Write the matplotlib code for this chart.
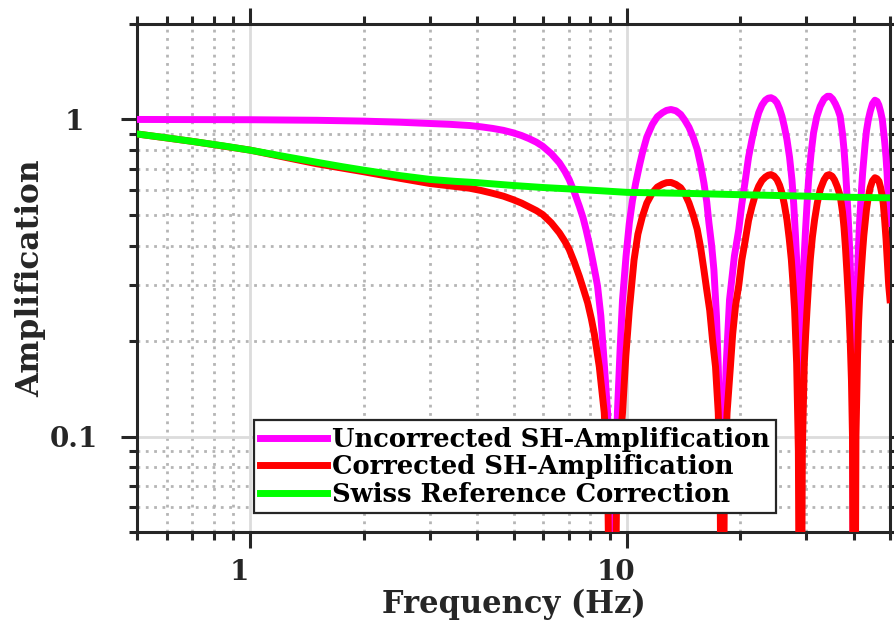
import matplotlib
matplotlib.use("Agg")
import matplotlib.pyplot as plt
from matplotlib.ticker import LogLocator, NullFormatter, FixedLocator, FixedFormatter
import matplotlib.transforms as mtransforms

# ---------------- data ----------------
freq_uncorr = [0.5, 0.7, 1.0, 1.5, 2.0, 2.5, 3.0, 3.4, 3.82, 4.1, 4.4, 4.7, 4.98, 5.25, 5.5,
               5.75, 5.98, 6.3, 6.62, 6.85, 7.03, 7.25, 7.48, 7.65, 7.79, 7.95, 8.11, 8.25,
               8.36, 8.53, 8.71, 8.89, 9.05, 9.16, 9.27, 9.44, 9.6, 9.74,
               9.95, 10.15, 10.35, 10.56, 10.8, 11.0, 11.3, 11.69, 12.05, 12.43, 12.75, 13.1,
               13.5, 13.9, 14.25, 14.62, 15.0, 15.38, 15.7, 16.02, 16.3, 16.52, 16.8, 17.03,
               17.3, 17.49, 17.74, 17.92, 18.1, 18.35,
               18.74, 19.3, 19.83, 20.2, 20.65, 21.05, 21.5, 21.95, 22.4, 22.85, 23.33, 23.75,
               24.15, 24.6, 25.05, 25.45, 25.82, 26.2, 26.62, 27.05, 27.45, 27.75, 28.02, 28.25,
               28.45, 28.7, 28.9, 29.1,
               29.35, 29.55, 29.8, 30.1, 30.39, 30.85, 31.33, 31.95, 32.63, 33.4, 34.1, 34.6,
               35.2, 35.8, 36.35, 36.86, 37.4, 37.75, 38.1, 38.45, 38.9, 39.2, 39.5, 39.75,
               40.15, 40.55,
               40.8, 41.0, 41.25, 41.5, 41.75, 42.0, 42.3, 42.6, 42.95, 43.3, 43.8, 44.3, 44.9,
               45.6, 46.2, 46.7, 47.2, 47.7, 48.0, 48.4, 48.8, 49.1, 49.35, 49.6, 50.0]
amp_uncorr = [1.0, 0.999, 0.998, 0.994, 0.988, 0.98, 0.971, 0.965, 0.957, 0.948, 0.937, 0.924,
              0.908, 0.89, 0.87, 0.848, 0.823, 0.78, 0.730, 0.685, 0.646, 0.59, 0.532, 0.49,
              0.45, 0.405, 0.361, 0.325, 0.298, 0.24, 0.17, 0.119, 0.05, 0.005, 0.05, 0.119,
              0.19, 0.27,
              0.37, 0.47, 0.555, 0.631, 0.715, 0.785, 0.88, 0.965, 1.02, 1.05, 1.068, 1.075,
              1.065, 1.037, 0.995, 0.945, 0.88, 0.804, 0.72, 0.631, 0.55, 0.472, 0.40, 0.336,
              0.24, 0.166, 0.09, 0.005, 0.09, 0.166,
              0.27, 0.37, 0.45, 0.54, 0.646, 0.76, 0.865, 0.965, 1.05, 1.11, 1.15, 1.167,
              1.171, 1.158, 1.129, 1.08, 1.024, 0.95, 0.865, 0.76, 0.646, 0.54, 0.439, 0.36,
              0.277, 0.14, 0.005, 0.14,
              0.277, 0.36, 0.439, 0.54, 0.646, 0.78, 0.908, 1.02, 1.10, 1.16, 1.183, 1.183,
              1.16, 1.12, 1.075, 1.024, 0.90, 0.80, 0.69, 0.573, 0.44, 0.35, 0.26, 0.18,
              0.005, 0.18,
              0.26, 0.32, 0.40, 0.47, 0.535, 0.60, 0.68, 0.75, 0.84, 0.92, 1.0, 1.06, 1.12,
              1.15, 1.14, 1.11, 1.06, 1.0, 0.93, 0.85, 0.76, 0.68, 0.6, 0.53, 0.47]

freq_corr = [0.5, 0.7, 1.0, 1.5, 2.0, 2.5, 3.0, 3.4, 3.82, 4.1, 4.4, 4.7, 4.98, 5.25, 5.5,
             5.75, 5.98, 6.3, 6.62, 6.85, 7.03, 7.25, 7.48, 7.68, 7.87, 8.05, 8.2, 8.45, 8.71,
             8.9, 9.15, 9.4, 9.74, 9.94,
             10.15, 10.45, 10.7, 11.0, 11.3, 11.69, 12.05, 12.43, 12.75, 13.1, 13.5, 13.9,
             14.25, 14.62, 15.0, 15.38, 15.7, 16.02, 16.3, 16.6, 16.9, 17.2, 17.49, 17.7,
             17.92, 18.15, 18.46, 18.84,
             19.1, 19.45, 19.83, 20.2, 20.65, 21.05, 21.5, 21.95, 22.4, 22.85, 23.33, 23.75,
             24.15, 24.6, 25.05, 25.45, 25.82, 26.2, 26.62, 27.0, 27.35, 27.65, 27.9, 28.25,
             28.55, 28.9, 29.25, 29.6,
             29.85, 30.1, 30.4, 30.7, 31.1, 31.53, 32.05, 32.63, 33.4, 34.0, 34.5, 35.1,
             35.6, 36.2, 36.86, 37.4, 37.75, 38.1, 38.45, 38.9, 39.2, 39.5, 39.75, 40.15,
             40.6, 41.0,
             41.25, 41.5, 41.75, 42.0, 42.3, 42.6, 42.95, 43.3, 43.8, 44.3, 44.9, 45.6, 46.2,
             46.75, 47.2, 47.7, 48.0, 48.4, 48.8, 49.1, 49.35, 49.6, 50.0]
amp_corr = [0.90, 0.853, 0.80, 0.725, 0.684, 0.652, 0.628, 0.617, 0.607, 0.597, 0.585, 0.573,
            0.559, 0.545, 0.53, 0.516, 0.501, 0.472, 0.439, 0.412, 0.389, 0.355, 0.320, 0.29,
            0.264, 0.235, 0.21, 0.166, 0.119, 0.07, 0.004, 0.07, 0.119, 0.18,
            0.25, 0.36, 0.435, 0.495, 0.545, 0.587, 0.612, 0.625, 0.632, 0.633, 0.624, 0.609,
            0.583, 0.546, 0.50, 0.45, 0.395, 0.336, 0.29, 0.25, 0.20, 0.166, 0.119, 0.07,
            0.004, 0.07, 0.119, 0.166,
            0.21, 0.26, 0.30, 0.36, 0.418, 0.48, 0.532, 0.58, 0.616, 0.642, 0.658, 0.667,
            0.67, 0.663, 0.646, 0.62, 0.587, 0.54, 0.483, 0.42, 0.361, 0.30, 0.251, 0.17,
            0.09, 0.004, 0.09, 0.17,
            0.21, 0.251, 0.305, 0.361, 0.425, 0.483, 0.545, 0.601, 0.645, 0.666, 0.67, 0.662,
            0.645, 0.615, 0.575, 0.51, 0.455, 0.39, 0.325, 0.25, 0.20, 0.15, 0.10, 0.003,
            0.10, 0.18,
            0.23, 0.27, 0.305, 0.34, 0.385, 0.43, 0.475, 0.52, 0.57, 0.61, 0.64, 0.655, 0.65,
            0.638, 0.61, 0.573, 0.54, 0.48, 0.42, 0.37, 0.33, 0.30, 0.27]

freq_swiss = [0.5, 0.6, 0.7, 0.85, 1.0, 1.25, 1.5, 1.75, 2.0, 2.5, 3.0, 3.5, 4.0, 5.0, 6.0,
              7.0, 8.5, 10.0, 15.0, 20.0, 30.0, 40.0, 50.0]
amp_swiss = [0.90, 0.875, 0.853, 0.825, 0.80, 0.762, 0.733, 0.71, 0.692, 0.665, 0.647, 0.638,
             0.632, 0.619, 0.61, 0.604, 0.596, 0.589, 0.584, 0.579, 0.573, 0.568, 0.566]

series_labels = ["Uncorrected SH-Amplification", "Corrected SH-Amplification",
                 "Swiss Reference Correction"]
series_colors = ["#ff00ff", "#ff0000", "#00ff00"]

x_ticks = [1, 10]
x_tick_labels = ["1", "10"]
y_ticks = [0.1, 1]
y_tick_labels = ["0.1", "1"]
x_label = "Frequency (Hz)"
y_label = "Amplification"

# ---------------- figure ----------------
plt.rcParams["font.family"] = ["DejaVu Serif"]
plt.rcParams["font.weight"] = "bold"

fig = plt.figure(figsize=(8.95, 6.25), dpi=100)
ax = fig.add_axes([137 / 895, 1 - 532 / 625, 753 / 895, 508 / 625])

dark = "#262626"
lw = 5.0
ax.plot(freq_uncorr, amp_uncorr, color=series_colors[0], lw=lw, label=series_labels[0],
        solid_joinstyle="round", zorder=3)
ax.plot(freq_corr, amp_corr, color=series_colors[1], lw=lw, label=series_labels[1],
        solid_joinstyle="round", zorder=4)
ax.plot(freq_swiss, amp_swiss, color=series_colors[2], lw=lw, label=series_labels[2],
        solid_joinstyle="round", zorder=5)

ax.set_xscale("log")
ax.set_yscale("log")
ax.set_xlim(0.5, 50)
ax.set_ylim(0.05, 2)

ax.xaxis.set_major_locator(FixedLocator(x_ticks))
ax.xaxis.set_major_formatter(FixedFormatter(x_tick_labels))
ax.yaxis.set_major_locator(FixedLocator(y_ticks))
ax.yaxis.set_major_formatter(FixedFormatter(y_tick_labels))
ax.xaxis.set_minor_locator(LogLocator(base=10, subs=range(2, 10)))
ax.yaxis.set_minor_locator(LogLocator(base=10, subs=range(2, 10)))
ax.xaxis.set_minor_formatter(NullFormatter())
ax.yaxis.set_minor_formatter(NullFormatter())

ax.set_axisbelow(True)
ax.grid(which="major", color="#dcdcdc", lw=2.0, ls="-")
ax.grid(which="minor", color="#b5b5b5", lw=2.0, ls=(0, (1, 2)))

for s in ax.spines.values():
    s.set_linewidth(2.2)
    s.set_color(dark)

ax.tick_params(which="both", direction="out", top=True, right=True, color=dark,
               width=2.2, labelcolor=dark, labelsize=20)
ax.tick_params(which="major", length=11.5)
ax.tick_params(which="minor", length=5.8)
ax.tick_params(axis="x", which="major", pad=8)
ax.tick_params(axis="y", which="major", pad=34)
for t in ax.get_yticklabels():
    t.set_horizontalalignment("center")
offset = mtransforms.ScaledTranslation(-11 / 100, 0, fig.dpi_scale_trans)
for t in ax.get_xticklabels():
    t.set_transform(t.get_transform() + offset)

ax.set_xlabel(x_label, fontsize=22, fontweight="bold", color=dark)
ax.set_ylabel(y_label, fontsize=22.5, fontweight="bold", color=dark)
ax.xaxis.set_label_coords(0.5, -0.112)
ax.yaxis.set_label_coords(-0.12, 0.5)

leg = ax.legend(loc="lower left", bbox_to_anchor=(0.155, 0.037), borderaxespad=0,
                fontsize=18.5, frameon=True, fancybox=False, framealpha=1,
                edgecolor=dark, handlelength=2.6, handletextpad=0.2, labelspacing=0.1,
                borderpad=0.25)
leg.get_frame().set_linewidth(1.6)
leg.set_zorder(10)
for t in leg.get_texts():
    t.set_color("black")

fig.savefig("out.png", dpi=100)
